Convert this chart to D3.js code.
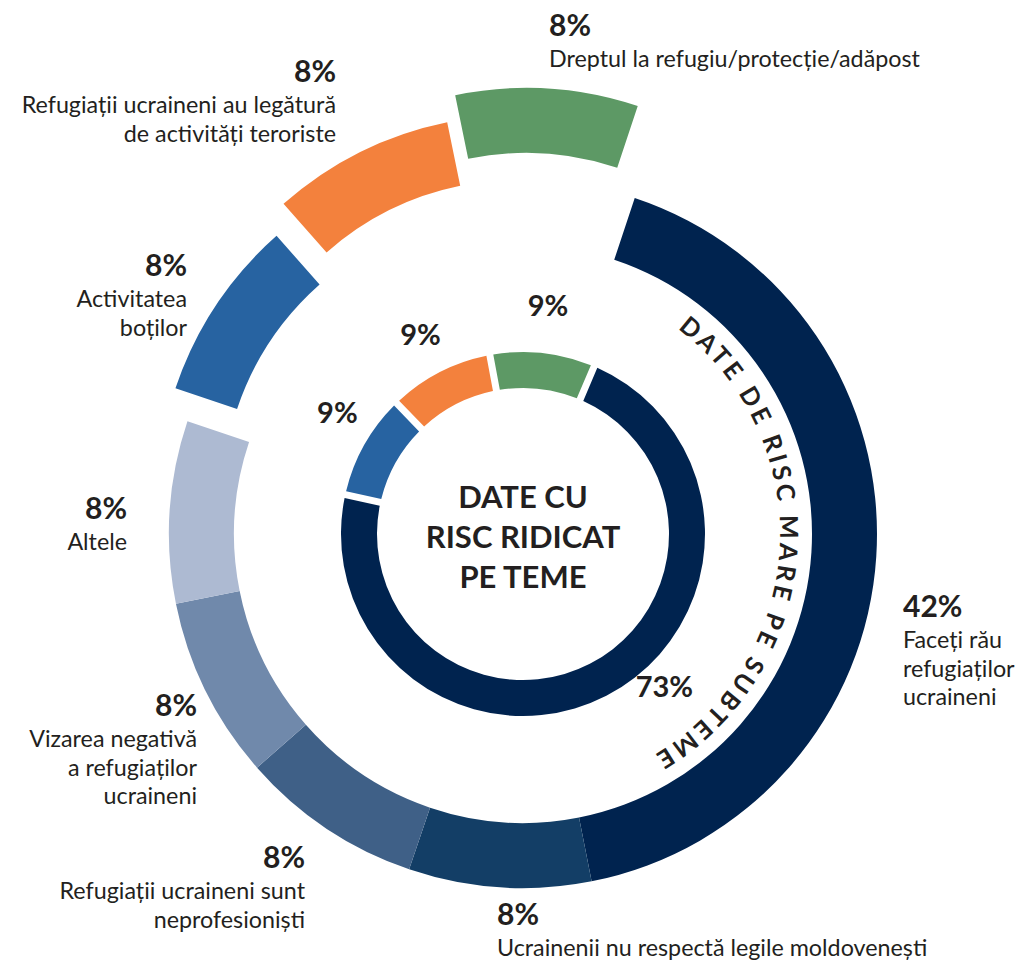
<!DOCTYPE html>
<html>
<head>
<meta charset="utf-8">
<script src="https://cdnjs.cloudflare.com/ajax/libs/d3/7.8.5/d3.min.js"></script>
<style>
  body { margin: 0; background: #fff; }
  svg text { font-family: Lato, 'Open Sans', sans-serif; fill: #231f20; }
</style>
</head>
<body>
<svg id="chart"></svg>
<script>
// subthemes (outer ring), clockwise from the top right
var subthemeLines = [
  ['Faceți rău', 'refugiaților', 'ucraineni'],
  ['Ucrainenii nu respectă legile moldovenești'],
  ['Refugiații ucraineni sunt', 'neprofesioniști'],
  ['Vizarea negativă', 'a refugiaților', 'ucraineni'],
  ['Altele'],
  ['Activitatea', 'boților'],
  ['Refugiații ucraineni au legătură', 'de activități teroriste'],
  ['Dreptul la refugiu/protecție/adăpost']
];
var subthemeValues = [41.7, 8.3, 8.3, 8.3, 8.3, 8.3, 8.3, 8.3];
var subthemeColors = ['#00234f', '#133e66', '#3f6087', '#7089ab', '#adbad2', '#2763a1', '#f3813d', '#5d9965'];

// themes (inner ring)
var themeValues = [73, 9, 9, 9];
var themeColors = ['#00234f', '#2763a1', '#f3813d', '#5d9965'];

var centerTitle = ['DATE CU', 'RISC RIDICAT', 'PE TEME'];
var ringTitle = 'DATE DE RISC MARE PE SUBTEME';

var width = 1016, height = 962;
var cx = 523, cy = 534;
var deg = Math.PI / 180;

// pulled-out pieces of the outer ring
var explode = [[0, 0], [0, 0], [0, 0], [0, 0], [0, 0], [-12, -33], [-5, -65], [3, -92]];

// text blocks of the outer ring: x, baseline of the percent, anchor
var labelLayout = [
  { x: 903, y: 617, anchor: 'start' },
  { x: 497, y: 925, anchor: 'start' },
  { x: 305, y: 868, anchor: 'end' },
  { x: 197, y: 716, anchor: 'end' },
  { x: 127, y: 519, anchor: 'end' },
  { x: 187, y: 276, anchor: 'end' },
  { x: 336, y: 82, anchor: 'end' },
  { x: 549, y: 36, anchor: 'start' }
];
// where along its arc the inner percent sits (0..1) and how far out
var innerLabelAt = [0.44, 0.62, 0.5, 0.5];
var innerLabelR = [208, 222, 224, 230];

var svg = d3.select('#chart')
  .attr('width', width)
  .attr('height', height);

var g = svg.append('g').attr('transform', 'translate(' + cx + ',' + cy + ')');

// outer ring
var outerPie = d3.pie().sort(null)
  .startAngle(18.4 * deg)
  .endAngle(18.4 * deg + 2 * Math.PI);
var outerArc = d3.arc().innerRadius(289).outerRadius(354);
var outerData = outerPie(subthemeValues);

g.selectAll('path.sub')
  .data(outerData)
  .enter().append('path')
  .attr('class', 'sub')
  .attr('transform', function (d, i) { return 'translate(' + explode[i][0] + ',' + explode[i][1] + ')'; })
  .attr('d', outerArc)
  .style('fill', function (d, i) { return subthemeColors[i]; });

// inner ring
var innerPie = d3.pie().sort(null)
  .padAngle(0.03)
  .startAngle(23 * deg)
  .endAngle(23 * deg + 2 * Math.PI);
var innerArc = d3.arc().innerRadius(146).outerRadius(182);
var innerData = innerPie(themeValues);

g.selectAll('path.theme')
  .data(innerData)
  .enter().append('path')
  .attr('class', 'theme')
  .attr('d', innerArc)
  .style('fill', function (d, i) { return themeColors[i]; });

function innerLabelPos(d, i) {
  var a = d.startAngle + (d.endAngle - d.startAngle) * innerLabelAt[i];
  return [Math.sin(a) * innerLabelR[i], -Math.cos(a) * innerLabelR[i]];
}

g.selectAll('text.themePct')
  .data(innerData)
  .enter().append('text')
  .attr('class', 'themePct')
  .attr('x', function (d, i) { return innerLabelPos(d, i)[0]; })
  .attr('y', function (d, i) { return innerLabelPos(d, i)[1]; })
  .attr('dy', '0.36em')
  .attr('text-anchor', 'middle')
  .style('font-size', '29px')
  .style('font-weight', 700)
  .text(function (d) { return Math.round(d.value) + '%'; });

// center title
g.append('text')
  .attr('text-anchor', 'middle')
  .style('font-size', '31px')
  .style('font-weight', 700)
  .selectAll('tspan')
  .data(centerTitle)
  .enter().append('tspan')
  .attr('x', 0)
  .attr('y', function (d, i) { return -26 + i * 40; })
  .text(function (d) { return d; });

// curved title along the big slice
var ringR = 257;
var ringA0 = 37 * deg, ringA1 = 149 * deg;
var ringPath = d3.path();
ringPath.arc(cx, cy, ringR, ringA0 - Math.PI / 2, ringA1 - Math.PI / 2, false);
svg.append('defs').append('path')
  .attr('id', 'ringPath')
  .attr('d', ringPath.toString());

var ringText = svg.append('text')
  .style('font-size', '25px')
  .style('font-weight', 700);
var ringTp = ringText.append('textPath')
  .attr('href', '#ringPath')
  .text(ringTitle);
var natural = ringText.node().getComputedTextLength();
var target = ringR * (ringA1 - ringA0);
ringTp.style('letter-spacing', ((target - natural) / (ringTitle.length - 1)) + 'px');

// outer labels
var labels = svg.selectAll('g.label')
  .data(outerData)
  .enter().append('g')
  .attr('class', 'label');

labels.append('text')
  .attr('x', function (d, i) { return labelLayout[i].x; })
  .attr('y', function (d, i) { return labelLayout[i].y; })
  .attr('text-anchor', function (d, i) { return labelLayout[i].anchor; })
  .style('font-size', '30px')
  .style('font-weight', 700)
  .text(function (d) { return Math.round(d.value) + '%'; });

labels.append('text')
  .attr('text-anchor', function (d, i) { return labelLayout[i].anchor; })
  .style('font-size', '23.3px')
  .selectAll('tspan')
  .data(function (d, i) {
    return subthemeLines[i].map(function (line, j) {
      return { text: line, x: labelLayout[i].x, y: labelLayout[i].y + 31 + j * 28.5 };
    });
  })
  .enter().append('tspan')
  .attr('x', function (d) { return d.x; })
  .attr('y', function (d) { return d.y; })
  .text(function (d) { return d.text; });
</script>
</body>
</html>
